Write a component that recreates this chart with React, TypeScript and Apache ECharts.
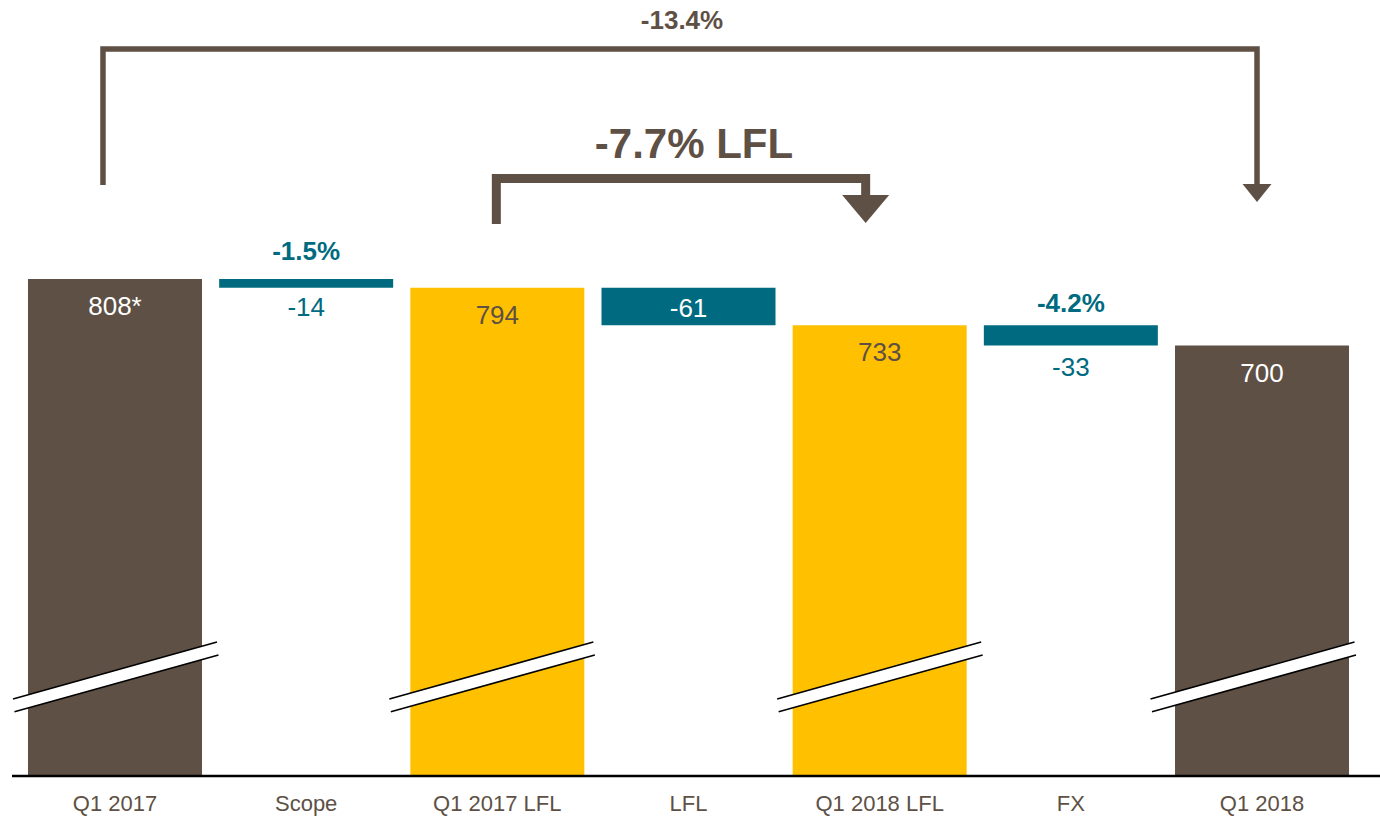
import React, { useEffect, useRef } from "react";
import * as echarts from "echarts";

const categories = ["Q1 2017", "Scope", "Q1 2017 LFL", "LFL", "Q1 2018 LFL", "FX", "Q1 2018"];
const amounts = [808, -14, 794, -61, 733, -33, 700];
const isTotal = [true, false, true, false, true, false, true];
const valueLabels = ["808*", "-14", "794", "-61", "733", "-33", "700"];
const pctLabels = ["", "-1.5%", "", "", "", "-4.2%", ""];
const totalChangeLabel = "-13.4%";
const lflChangeLabel = "-7.7% LFL";

const BROWN = "#5E5045";
const YELLOW = "#FFC000";
const TEAL = "#006B80";
const FONT = "'Liberation Sans', Arial, sans-serif";

export default function App() {
  const ref = useRef<HTMLDivElement>(null);

  useEffect(() => {
    if (!ref.current) return;
    const chart = echarts.init(ref.current, undefined, { renderer: "svg" });

    const bases: number[] = [];
    const heights: number[] = [];
    let running = 0;
    amounts.forEach((v, i) => {
      if (isTotal[i]) {
        bases.push(0);
        heights.push(v);
        running = v;
      } else {
        running += v;
        bases.push(running);
        heights.push(-v);
      }
    });

    const last = amounts.length - 1;
    const colorOf = (i: number) => {
      if (!isTotal[i]) return TEAL;
      if (i === 0 || i === last) return BROWN;
      return YELLOW;
    };

    const baseData = bases.map((b, i) => {
      if (isTotal[i] || pctLabels[i] === "") {
        return { value: b, label: { show: false } };
      }
      return {
        value: b,
        label: {
          show: true,
          position: "insideTop",
          distance: i === 1 ? 6 : 8,
          formatter: valueLabels[i],
          color: TEAL,
          fontSize: 26,
          fontFamily: FONT,
        },
      };
    });

    const valueData = heights.map((h, i) => {
      const color = colorOf(i);
      let label: any;
      if (isTotal[i]) {
        label = {
          show: true,
          position: "insideTop",
          distance: 14,
          formatter: valueLabels[i],
          color: color === YELLOW ? BROWN : "#FFFFFF",
          fontSize: 26,
          fontFamily: FONT,
        };
      } else if (pctLabels[i] !== "") {
        label = {
          show: true,
          position: "top",
          distance: i === 1 ? 15 : 9,
          formatter: pctLabels[i],
          color: TEAL,
          fontSize: 26,
          fontWeight: "bold",
          fontFamily: FONT,
        };
      } else {
        label = {
          show: true,
          position: "inside",
          offset: [0, 2],
          formatter: valueLabels[i],
          color: "#FFFFFF",
          fontSize: 26,
          fontFamily: FONT,
        };
      }
      return { value: h, itemStyle: { color }, label };
    });

    chart.setOption({
      animation: false,
      grid: { left: 19.4, right: 22.4, top: 37.4, bottom: 40, containLabel: false },
      xAxis: {
        type: "category",
        data: categories,
        axisLine: { show: false },
        axisTick: { show: false },
        axisLabel: { color: BROWN, fontSize: 22, fontFamily: FONT, margin: 15 },
        splitLine: { show: false },
      },
      yAxis: { type: "value", min: 0, max: 1200, show: false, splitLine: { show: false } },
      series: [
        {
          name: "base",
          type: "bar",
          stack: "w",
          barWidth: 174,
          silent: true,
          itemStyle: { color: "rgba(0,0,0,0)" },
          emphasis: { disabled: true },
          data: baseData,
        },
        {
          name: "value",
          type: "bar",
          stack: "w",
          barWidth: 174,
          silent: true,
          emphasis: { disabled: true },
          data: valueData,
        },
      ],
    });

    const centers = categories.map((c) => chart.convertToPixel({ xAxisIndex: 0 }, c) as number);
    const elements: any[] = [];

    // axis baseline
    elements.push({
      type: "line",
      z: 100,
      shape: { x1: 12, y1: 776, x2: 1380, y2: 776 },
      style: { stroke: "#000000", lineWidth: 2.5 },
    });

    // axis break marks on total bars (hand-placed shifts as in the original)
    const breakShift = [0, -6, -0.5, -9.5];
    let k = 0;
    centers.forEach((c0, i) => {
      if (!isTotal[i]) return;
      const c = c0 + breakShift[k++];
      const ul = [c - 102, 699.1];
      const ur = [c + 102, 642.1];
      const lr = [c + 103.5, 655];
      const ll = [c - 100.5, 711.7];
      elements.push({
        type: "polygon",
        z: 100,
        shape: { points: [ul, ur, lr, ll] },
        style: { fill: "#FFFFFF", stroke: "none" },
      });
      elements.push({
        type: "line",
        z: 101,
        shape: { x1: ul[0], y1: ul[1], x2: ur[0], y2: ur[1] },
        style: { stroke: "#000000", lineWidth: 1.6 },
      });
      elements.push({
        type: "line",
        z: 101,
        shape: { x1: ll[0], y1: ll[1], x2: lr[0], y2: lr[1] },
        style: { stroke: "#000000", lineWidth: 1.6 },
      });
    });

    // overall bracket
    const tL = centers[0] - 12;
    const tR = centers[last] - 5;
    elements.push({
      type: "polyline",
      z: 100,
      shape: { points: [[tL, 185], [tL, 49], [tR, 49], [tR, 186]] },
      style: { stroke: BROWN, lineWidth: 5.5, fill: "none", lineJoin: "miter", lineCap: "butt" },
    });
    elements.push({
      type: "polygon",
      z: 100,
      shape: { points: [[tR - 14.5, 184], [tR + 14.5, 184], [tR, 202]] },
      style: { fill: BROWN },
    });
    elements.push({
      type: "text",
      z: 100,
      style: {
        text: totalChangeLabel,
        x: 682,
        y: 20,
        fill: BROWN,
        font: `bold 26px ${FONT}`,
        align: "center",
        verticalAlign: "middle",
      },
    });

    // LFL bracket
    const lL = centers[2] - 1;
    const lR = centers[4] - 14;
    elements.push({
      type: "polyline",
      z: 100,
      shape: { points: [[lL, 224], [lL, 178.5], [lR, 178.5], [lR, 196]] },
      style: { stroke: BROWN, lineWidth: 9, fill: "none", lineJoin: "miter", lineCap: "butt" },
    });
    elements.push({
      type: "polygon",
      z: 100,
      shape: { points: [[lR - 23.5, 195], [lR + 23.5, 195], [lR, 223]] },
      style: { fill: BROWN },
    });
    elements.push({
      type: "text",
      z: 100,
      style: {
        text: lflChangeLabel,
        x: 694,
        y: 143,
        fill: BROWN,
        font: `bold 42px ${FONT}`,
        align: "center",
        verticalAlign: "middle",
      },
    });

    chart.setOption({ graphic: { elements } });

    return () => chart.dispose();
  }, []);

  return (
    <div
      ref={ref}
      style={{ position: "fixed", left: 0, top: 0, width: 1380, height: 817, background: "#FFFFFF" }}
    />
  );
}
